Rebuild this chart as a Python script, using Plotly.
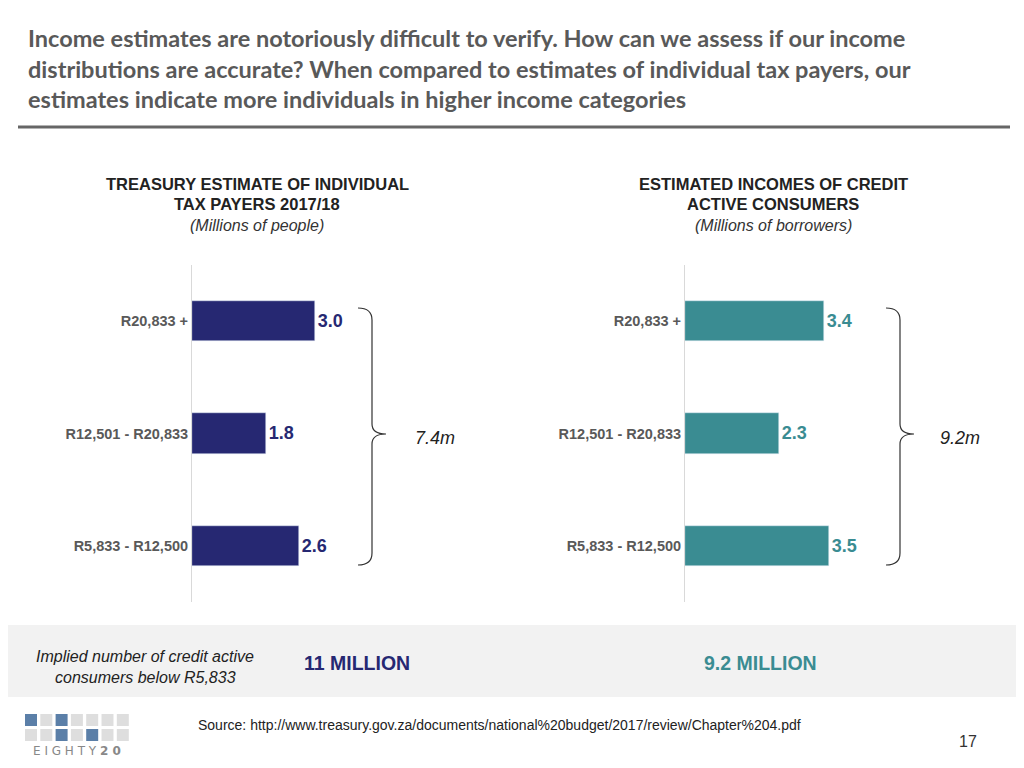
import plotly.graph_objects as go
from plotly.subplots import make_subplots

categories = ['R5,833 - R12,500', 'R12,501 - R20,833', 'R20,833 +']
treasury = [2.6, 1.8, 3.0]
credit = [3.5, 2.3, 3.4]
navy = '#262872'
teal = '#3a8c92'

# page has an 8px body margin, so the figure is a bit smaller than the window
W, H = 1008, 752
OFF = 8
def px_x(x): return (x - OFF) / W
def px_y(y): return 1 - (y - OFF) / H

fig = make_subplots(rows=1, cols=2)
fig.add_trace(go.Bar(y=categories, x=treasury, orientation='h', marker_color=navy, width=0.36,
                     text=[f'<b>{v:.1f}</b>' for v in treasury], textposition='outside',
                     textfont=dict(color=navy, size=18, family='Liberation Sans'), cliponaxis=False), 1, 1)
fig.add_trace(go.Bar(y=categories, x=credit, orientation='h', marker_color=teal, width=0.36,
                     text=[f'<b>{v:.1f}</b>' for v in credit], textposition='outside',
                     textfont=dict(color=teal, size=18, family='Liberation Sans'), cliponaxis=False), 1, 2)

ydom = [px_y(602), px_y(265)]
tick_font = dict(size=14.5, color='#595959', family='Liberation Sans')
fig.update_layout(
    width=W, height=H, margin=dict(l=0, r=0, t=0, b=0), showlegend=False,
    plot_bgcolor='white', paper_bgcolor='white', bargap=0,
    font=dict(family='Liberation Sans', color='#595959'),
    xaxis=dict(domain=[px_x(192), px_x(356)], range=[0, 4], visible=False),
    xaxis2=dict(domain=[px_x(685), px_x(849)], range=[0, 4], visible=False),
    yaxis=dict(domain=ydom, range=[-0.5, 2.5], showgrid=False, showline=True, linecolor='#d9d9d9',
               ticks='', tickfont=tick_font, tickvals=categories,
               ticktext=[f'<b>{c}</b>' for c in categories], ticksuffix=' '),
    yaxis2=dict(domain=ydom, range=[-0.5, 2.5], showgrid=False, showline=True, linecolor='#d9d9d9',
                ticks='', tickfont=tick_font, tickvals=categories,
                ticktext=[f'<b>{c}</b>' for c in categories], ticksuffix=' '),
)

shapes = [
    dict(type='line', xref='paper', yref='paper', x0=px_x(18), x1=px_x(1010), y0=px_y(127), y1=px_y(127),
         line=dict(color='#666666', width=3)),
    dict(type='rect', xref='paper', yref='paper', x0=0, x1=1, y0=px_y(697), y1=px_y(625),
         fillcolor='#f2f2f2', line_width=0, layer='below'),
]
for x0 in (358, 886):
    t, b, m = 308, 565, 434
    path = (f'M {px_x(x0)},{px_y(t)} Q {px_x(x0+14)},{px_y(t)} {px_x(x0+14)},{px_y(t+12)} '
            f'L {px_x(x0+14)},{px_y(m-10)} Q {px_x(x0+14)},{px_y(m)} {px_x(x0+28)},{px_y(m)} '
            f'Q {px_x(x0+14)},{px_y(m)} {px_x(x0+14)},{px_y(m+10)} '
            f'L {px_x(x0+14)},{px_y(b-12)} Q {px_x(x0+14)},{px_y(b)} {px_x(x0)},{px_y(b)}')
    shapes.append(dict(type='path', xref='paper', yref='paper', path=path, line=dict(color='#333333', width=1.2)))

# logo squares
for blues, yt in (({0, 2}, 714), ({2, 4}, 729)):
    for i in range(7):
        xl = 25 + i * 15.3
        shapes.append(dict(type='rect', xref='paper', yref='paper', x0=px_x(xl), x1=px_x(xl + 12),
                           y0=px_y(yt + 12), y1=px_y(yt), line_width=0,
                           fillcolor='#5b7fa8' if i in blues else '#dedede'))
fig.update_layout(shapes=shapes)

def txt(x, y, s, size=14, color='#333333', bold=False, italic=False, anchor='center', family='Liberation Sans'):
    if bold: s = f'<b>{s}</b>'
    if italic: s = f'<i>{s}</i>'
    fig.add_annotation(x=px_x(x), y=px_y(y), xref='paper', yref='paper', text=s, showarrow=False,
                       xanchor=anchor, yanchor='middle', align=anchor,
                       font=dict(size=size, color=color, family=family))

fig.add_annotation(x=px_x(26), y=px_y(22), xref='paper', yref='paper', xanchor='left', yanchor='top',
                   align='left', showarrow=False,
                   text='<b>Income estimates are notoriously difficult to verify. How can we assess if our income<br>'
                        'distributions are accurate? When compared to estimates of individual tax payers, our<br>'
                        'estimates indicate more individuals in higher income categories</b>',
                   font=dict(size=23.5, color='#595959', family='Lato'))

txt(257, 184, 'TREASURY ESTIMATE OF INDIVIDUAL', 16.5, '#222222', bold=True)
txt(257, 204, 'TAX PAYERS 2017/18', 16.5, '#222222', bold=True)
txt(257, 225, '(Millions of people)', 16, '#333333', italic=True)
txt(773, 184, 'ESTIMATED INCOMES OF CREDIT', 16.5, '#222222', bold=True)
txt(773, 204, 'ACTIVE CONSUMERS', 16.5, '#222222', bold=True)
txt(773, 225, '(Millions of borrowers)', 16, '#333333', italic=True)

txt(435, 438, '7.4m', 18, '#222222', italic=True)
txt(960, 438, '9.2m', 18, '#222222', italic=True)

txt(145, 656, 'Implied number of credit active', 16, '#222222', italic=True)
txt(145, 677, 'consumers below R5,833', 16, '#222222', italic=True)
txt(357, 663, '11 MILLION', 19.5, navy, bold=True)
txt(760, 663, '9.2 MILLION', 19.5, teal, bold=True)

txt(196, 725, 'Source: http://www.treasury.gov.za/documents/national%20budget/2017/review/Chapter%204.pdf',
    14, '#222222', anchor='left')
txt(968, 741, '17', 16, '#333333')
txt(77, 751, 'E I G H T Y <b>2 0</b>', 12, '#888888', family='DejaVu Sans')

fig.write_html('out.html')
